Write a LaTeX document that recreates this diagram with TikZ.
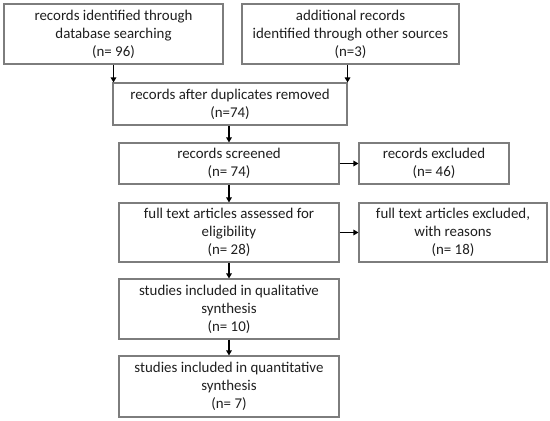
\documentclass[tikz,border=0pt]{standalone}
\usepackage{fontspec}
\setmainfont{Carlito}
\usepackage{tikz}
\usetikzlibrary{arrows.meta}
\usetikzlibrary{calc}
\definecolor{boxgray}{RGB}{125,125,125}
\definecolor{textgray}{RGB}{30,30,30}
\tikzset{
    box/.style={draw=boxgray, line width=1.1pt, align=center, inner sep=0pt,
        text=textgray, font=\fontsize{14.9}{18}\selectfont},
}
\newcommand{\drawflow}{\draw[line width=1.6pt, -{Triangle[length=5pt, width=5.5pt]}]}

\begin{document}
\begin{tikzpicture}[x=1pt, y=-1pt]
    \useasboundingbox (0,0) rectangle (550,421);

    % Draw boxes
    \node[box, minimum width=219pt, minimum height=60pt] (ident) at (113.5, 34)
        {records identified through\\database searching\\(n= 96)};
    \node[box, minimum width=217pt, minimum height=60pt] (other) at (350.5, 34)
        {additional records\\identified through other sources\\(n=3)};
    \node[box, minimum width=234pt, minimum height=42pt] (dupl) at (230, 104)
        {records after duplicates removed\\(n=74)};
    \node[box, minimum width=220pt, minimum height=41pt] (screen) at (229, 163.5)
        {records screened\\(n= 74)};
    \node[box, minimum width=150pt, minimum height=41pt] (screx) at (434, 163.5)
        {records excluded\\(n= 46)};
    \node[box, minimum width=220pt, minimum height=59pt] (fulltext) at (229, 232.5)
        {full text articles assessed for\\eligibility\\(n= 28)};
    \node[box, minimum width=188pt, minimum height=59pt] (fullex) at (453, 232.5)
        {full text articles excluded,\\with reasons\\(n= 18)};
    \node[box, minimum width=220pt, minimum height=60pt] (qual) at (229, 309)
        {studies included in qualitative\\synthesis\\(n= 10)};
    \node[box, minimum width=220pt, minimum height=61pt] (quant) at (229, 386.5)
        {studies included in quantitative\\synthesis\\(n= 7)};

    % Draw arrows
    \drawflow (ident.south) -- (ident.south |- dupl.north);
    \drawflow (dupl.north east |- other.south) -- (dupl.north east);
    \drawflow (dupl.south -| screen.north) -- (screen.north);
    \drawflow (screen.east) -- (screx.west);
    \drawflow (screen.south) -- (fulltext.north);
    \drawflow (fulltext.east) -- (fullex.west);
    \drawflow (fulltext.south) -- (qual.north);
    \drawflow (qual.south) -- (quant.north);
\end{tikzpicture}
\end{document}
